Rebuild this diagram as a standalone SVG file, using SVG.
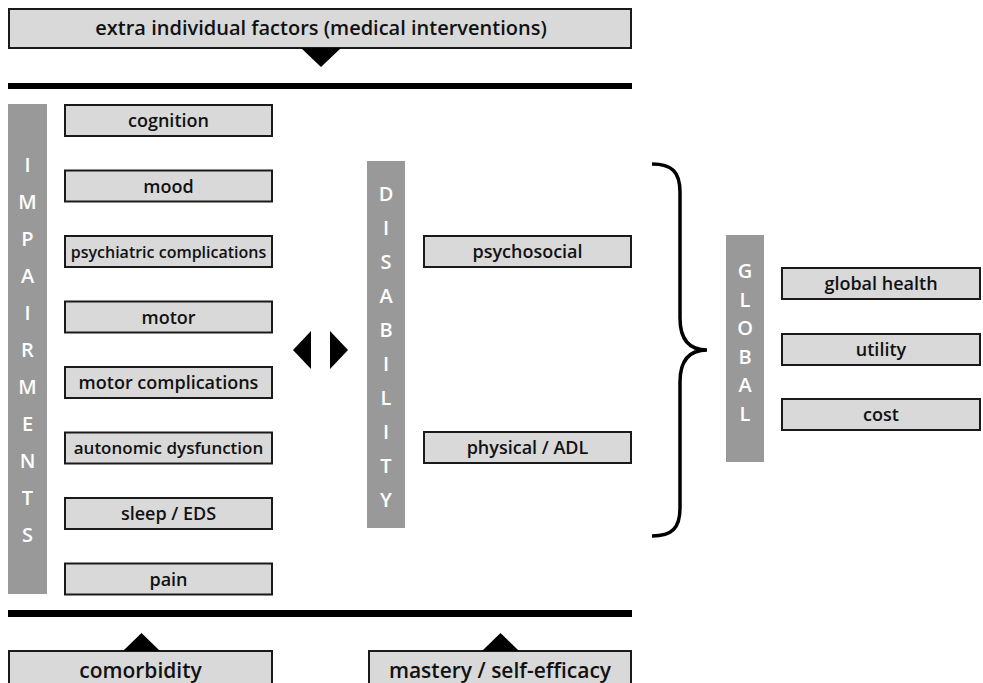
<svg xmlns="http://www.w3.org/2000/svg" width="983" height="683" viewBox="0 0 983 683">
<style>
.box{fill:#d9d9d9;stroke:#1a1a1a;stroke-width:2}
.bar{fill:#999999}
.t{font-family:"Open Sans","DejaVu Sans",sans-serif;font-weight:600;font-size:18px;fill:#111;text-anchor:middle}
.v{font-family:"Open Sans","DejaVu Sans",sans-serif;font-weight:600;font-size:20px;fill:#ffffff;text-anchor:middle}
.tri{fill:#000}
.rule{fill:#000}
</style>
<rect width="983" height="683" fill="#ffffff"/>

<g id="extra-factors">
<rect class="box" x="9" y="9" width="622" height="39"/>
<text class="t" x="321" y="35" style="font-size:20px">extra individual factors (medical interventions)</text>
</g>

<g id="impairments">
<rect class="bar" x="8" y="104" width="39" height="490"/>
<text class="v" x="27.5" y="172">I</text>
<text class="v" x="27.5" y="209">M</text>
<text class="v" x="27.5" y="246">P</text>
<text class="v" x="27.5" y="283">A</text>
<text class="v" x="27.5" y="320">I</text>
<text class="v" x="27.5" y="357">R</text>
<text class="v" x="27.5" y="394">M</text>
<text class="v" x="27.5" y="431">E</text>
<text class="v" x="27.5" y="468">N</text>
<text class="v" x="27.5" y="505">T</text>
<text class="v" x="27.5" y="542">S</text>
</g>

<g id="cognition"><rect class="box" x="65" y="105" width="207" height="31"/><text class="t" x="168.5" y="127">cognition</text></g>
<g id="mood"><rect class="box" x="65" y="170.5" width="207" height="31"/><text class="t" x="168.5" y="192.5">mood</text></g>
<g id="psychiatric-complications"><rect class="box" x="65" y="236" width="207" height="31"/><text class="t" x="168.5" y="257.5" style="font-size:16px">psychiatric complications</text></g>
<g id="motor"><rect class="box" x="65" y="301.5" width="207" height="31"/><text class="t" x="168.5" y="323.5">motor</text></g>
<g id="motor-complications"><rect class="box" x="65" y="367" width="207" height="31"/><text class="t" x="168.5" y="389">motor complications</text></g>
<g id="autonomic-dysfunction"><rect class="box" x="65" y="432.5" width="207" height="31"/><text class="t" x="168.5" y="454" style="font-size:17px">autonomic dysfunction</text></g>
<g id="sleep-eds"><rect class="box" x="65" y="498" width="207" height="31"/><text class="t" x="168.5" y="520">sleep / EDS</text></g>
<g id="pain"><rect class="box" x="65" y="563.5" width="207" height="31"/><text class="t" x="168.5" y="585.5">pain</text></g>

<g id="disability">
<rect class="bar" x="367" y="161" width="38" height="367"/>
<text class="v" x="386" y="201">D</text>
<text class="v" x="386" y="235">I</text>
<text class="v" x="386" y="269">S</text>
<text class="v" x="386" y="303">A</text>
<text class="v" x="386" y="337">B</text>
<text class="v" x="386" y="371">I</text>
<text class="v" x="386" y="405">L</text>
<text class="v" x="386" y="439">I</text>
<text class="v" x="386" y="473">T</text>
<text class="v" x="386" y="507">Y</text>
</g>
<g id="psychosocial"><rect class="box" x="424" y="236" width="207" height="31"/><text class="t" x="527.5" y="258">psychosocial</text></g>
<g id="physical-adl"><rect class="box" x="424" y="432" width="207" height="31"/><text class="t" x="527.5" y="454">physical / ADL</text></g>

<g id="global">
<rect class="bar" x="726" y="235" width="38" height="227"/>
<text class="v" x="745" y="278">G</text>
<text class="v" x="745" y="306.5">L</text>
<text class="v" x="745" y="335">O</text>
<text class="v" x="745" y="363.5">B</text>
<text class="v" x="745" y="392">A</text>
<text class="v" x="745" y="420.5">L</text>
</g>
<g id="global-health"><rect class="box" x="782" y="268" width="198" height="31"/><text class="t" x="881" y="290">global health</text></g>
<g id="utility"><rect class="box" x="782" y="334" width="198" height="31"/><text class="t" x="881" y="356">utility</text></g>
<g id="cost"><rect class="box" x="782" y="399" width="198" height="31"/><text class="t" x="881" y="421">cost</text></g>

<g id="comorbidity"><rect class="box" x="9" y="651" width="263" height="40"/><text class="t" x="140.5" y="678" style="font-size:21px">comorbidity</text></g>
<g id="mastery"><rect class="box" x="369" y="651" width="262" height="40"/><text class="t" x="500" y="678" style="font-size:21px">mastery / self-efficacy</text></g>

<g id="connectors">
<rect class="rule" x="8" y="83" width="624" height="6"/>
<rect class="rule" x="8" y="610" width="624" height="7"/>
<polygon class="tri" points="301,48 341,48 321,67"/>
<polygon class="tri" points="123,651 160,651 141.5,633"/>
<polygon class="tri" points="482,651 519,651 500.5,633"/>
<polygon class="tri" points="311,331 311,369 293,350"/>
<polygon class="tri" points="330,331 330,369 348,350"/>
<path d="M652,164 C672,164 680,172 680,192 L680,318 C680,338 688,350 707,350 C688,350 680,362 680,382 L680,508 C680,528 672,536 652,536" fill="none" stroke="#000" stroke-width="3.5"/>
</g>
</svg>
